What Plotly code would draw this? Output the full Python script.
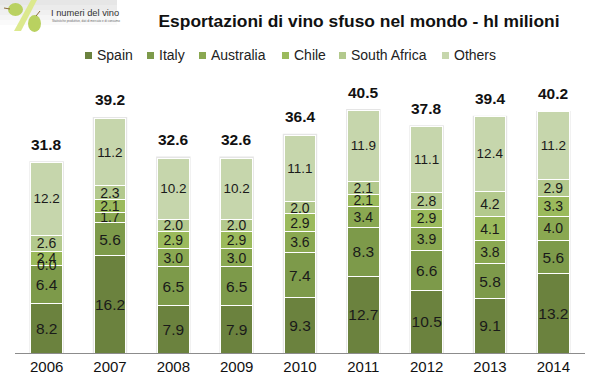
import plotly.graph_objects as go

years = ["2006","2007","2008","2009","2010","2011","2012","2013","2014"]
spain = [8.2,16.2,7.9,7.9,9.3,12.7,10.5,9.1,13.2]
italy = [6.4,5.6,6.5,6.5,7.4,8.3,6.6,5.8,5.6]
australia = [0.0,1.7,3.0,3.0,3.6,3.4,3.9,3.8,4.0]
chile = [2.4,2.1,2.9,2.9,2.9,2.1,2.9,4.1,3.3]
south_africa = [2.6,2.3,2.0,2.0,2.0,2.1,2.8,4.2,2.9]
others = [12.2,11.2,10.2,10.2,11.1,11.9,11.1,12.4,11.2]
totals = [31.8,39.2,32.6,32.6,36.4,40.5,37.8,39.4,40.2]

series = [("Spain",spain,"#6B823E",15.5),("Italy",italy,"#7D9A4A",15.5),("Australia",australia,"#8AA851",14),
          ("Chile",chile,"#9BBA5C",14),("South Africa",south_africa,"#B3C98D",14),("Others",others,"#C6D6AC",13.5)]
legend_x = [85,147,199,282,339,442]
F = "Liberation Sans, Arial, sans-serif"
W, H = 599, 389
ML, MR, MT, MB = 15, 14, 0, 36
def px(x): return (x-ML)/(W-ML-MR)
def py(y): return (H-MB-y)/(H-MB-MT)

fig = go.Figure()
for name, vals, col, fs in series:
    fig.add_trace(go.Bar(x=years, y=vals, name=name, showlegend=False,
        marker=dict(color=col, line=dict(color="white", width=1)),
        text=[f"{v:.1f}" for v in vals], textposition="inside", insidetextanchor="middle", constraintext="none",
        textangle=0, textfont=dict(family=F, size=fs, color="#1a1a1a"), hoverinfo="skip"))

shapes = []
# bar soft shadow
for i, t in enumerate(totals):
    shapes.append(dict(type="rect", xref="x", yref="y", x0=i-0.272, x1=i+0.272, y0=0, y1=t+0.15, line_width=0,
                       fillcolor="rgba(0,0,0,0.10)", layer="below"))
# logo background
for k, (y0, c) in enumerate([(0,"#E6E6E6"),(5,"#EBEBEB"),(10,"#F0F0F0"),(15,"#F5F5F5"),(20,"#FAFAFA")]):
    shapes.append(dict(type="rect", xref="paper", yref="paper", x0=px(0), x1=px(117), y0=py(y0), y1=py(y0+5),
                       line_width=0, fillcolor=c, layer="below"))
shapes += [
    dict(type="path", xref="paper", yref="paper", line_width=0, fillcolor="#DCE98E",
         path=f"M {px(14)} {py(31)} L {px(31)} {py(0)} L {px(37)} {py(0)} L {px(21)} {py(31)} Z"),
    dict(type="circle", xref="paper", yref="paper", x0=px(8), x1=px(23), y0=py(3), y1=py(16), line_width=0, fillcolor="#B9D160"),
    dict(type="circle", xref="paper", yref="paper", x0=px(28), x1=px(41), y0=py(15), y1=py(32), line_width=0, fillcolor="#B9D160"),
    dict(type="line", xref="paper", yref="paper", x0=px(4), x1=px(10), y0=py(8), y1=py(9), line=dict(color="#8A6A3A", width=1)),
    dict(type="line", xref="paper", yref="paper", x0=px(36), x1=px(40), y0=py(16), y1=py(11), line=dict(color="#8A6A3A", width=1)),
]
annotations = [
    dict(text="I numeri del vino", x=px(49), y=py(13), xref="paper", yref="paper", xanchor="left", yanchor="middle", showarrow=False,
         font=dict(family=F, size=9.3, color="#333")),
    dict(text="Statistiche produttive, dati di mercato e di consumo", x=px(50), y=py(21), xref="paper", yref="paper", xanchor="left", yanchor="middle",
         showarrow=False, font=dict(family=F, size=3, color="#666")),
    # label of the zero-height Australia segment in 2006
    dict(text="0.0", x=0, y=spain[0]+italy[0], xref="x", yref="y", showarrow=False, xanchor="center", yanchor="middle",
         font=dict(family=F, size=14, color="#1a1a1a")),
]
for lx, (name, vals, col, fs) in zip(legend_x, series):
    shapes.append(dict(type="rect", xref="paper", yref="paper", x0=px(lx), x1=px(lx+7), y0=py(52), y1=py(59), line_width=0, fillcolor=col))
    annotations.append(dict(text=name, x=px(lx+9.5), y=py(55), xref="paper", yref="paper", xanchor="left", yanchor="middle",
                            showarrow=False, font=dict(family=F, size=14, color="#222")))
for i, t in enumerate(totals):
    annotations.append(dict(text=f"<b>{t:.1f}</b>", x=i, y=t, xref="x", yref="y", yshift=18, showarrow=False, xanchor="center", yanchor="middle",
                            font=dict(family=F, size=15.5, color="#111")))

fig.update_layout(
    width=W, height=H, margin=dict(l=ML, r=MR, t=MT, b=MB), barmode="stack", bargap=0.5,
    plot_bgcolor="rgba(0,0,0,0)", paper_bgcolor="white", shapes=shapes, annotations=annotations, showlegend=False,
    title=dict(text="<b>Esportazioni di vino sfuso nel mondo - hl milioni</b>", x=359/W, xanchor="center", y=1-21/H, yanchor="middle",
               font=dict(family=F, size=17.4, color="#111")),
    xaxis=dict(type="category", categoryorder="array", categoryarray=years, range=[-0.5, 8.5], showgrid=False, showline=True, linecolor="#8c8c8c", linewidth=1, ticks="",
               tickfont=dict(family=F, size=15, color="#111")),
    yaxis=dict(visible=False, range=[0, 353/6.0]),
)
fig.write_html("out.html", post_script="document.body.style.margin='0';", config=dict(displayModeBar=False))
